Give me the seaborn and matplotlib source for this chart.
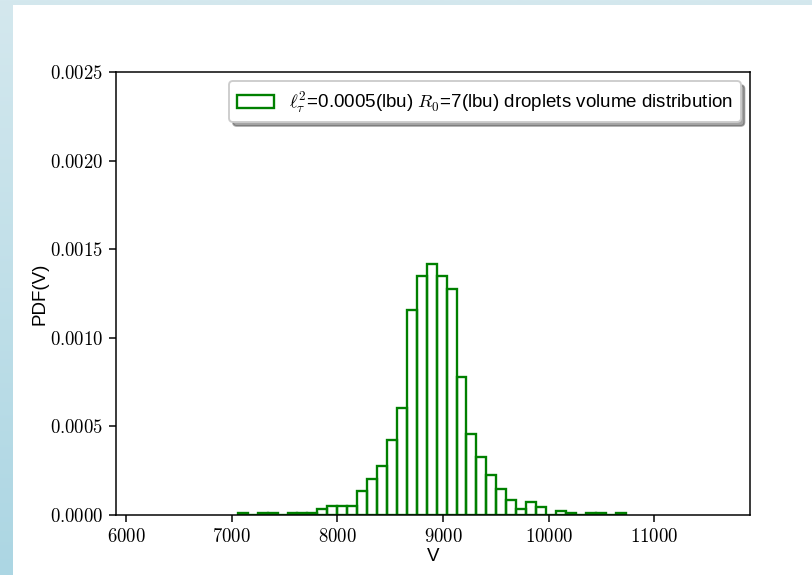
import numpy as np
import seaborn as sns
import matplotlib.pyplot as plt
from matplotlib.patches import Patch, Rectangle
from matplotlib.ticker import FuncFormatter, MultipleLocator

# histogram (bin centres and PDF values)
volume = [7105, 7199, 7293, 7387, 7482, 7576, 7670, 7764, 7858, 7952,
          8046, 8140, 8234, 8328, 8423, 8517, 8611, 8705, 8799, 8893,
          8987, 9081, 9175, 9269, 9364, 9458, 9552, 9646, 9740, 9834,
          9928, 10022, 10116, 10210, 10305, 10399, 10493, 10587, 10681]
pdf = [0.0000106, 0.0, 0.0000106, 0.0000106, 0.0, 0.0000106, 0.0000106, 0.0000106, 0.0000319, 0.0000531,
       0.0000531, 0.0000531, 0.000138, 0.000202, 0.000276, 0.000425, 0.000606, 0.001158, 0.00135, 0.001414,
       0.00135, 0.001275, 0.000776, 0.000457, 0.000329, 0.000223, 0.000149, 0.000085, 0.0000319, 0.0000744,
       0.0000425, 0.0, 0.0000213, 0.0000106, 0.0, 0.0000106, 0.0000106, 0.0, 0.0000106]
n_bins = 39
bin_range = (7058, 10728)

label = r'$\ell_\tau^2$=0.0005(lbu) $R_0$=7(lbu) droplets volume distribution'

plt.rcParams['mathtext.fontset'] = 'cm'
plt.rcParams['font.family'] = ['Liberation Sans', 'DejaVu Sans']

fig = plt.figure(figsize=(812 / 135, 575 / 135), dpi=135)

# light blue page frame behind the figure
bg = fig.add_axes([0, 0, 1, 1], zorder=-5)
grad = np.linspace(0, 1, 256).reshape(-1, 1)
bg.imshow(grad, cmap=sns.blend_palette(['#acd6e3', '#d4e8ee'], as_cmap=True),
          aspect='auto', extent=[0, 1, 0, 1], origin='lower')
bg.add_patch(Rectangle((13 / 812, 0), 1, 1 - 5 / 575, facecolor='white', edgecolor='none'))
bg.set_xlim(0, 1)
bg.set_ylim(0, 1)
bg.axis('off')

ax = fig.add_axes([116 / 812, 1 - 515 / 575, (750 - 116) / 812, (515 - 72) / 575])
sns.histplot(x=volume, weights=pdf, bins=n_bins, binrange=bin_range, stat='count',
             element='bars', fill=False, color='green', linewidth=1.25, ax=ax)

ax.set_xlim(5905, 11906)
ax.set_ylim(0, 0.0025)
ax.xaxis.set_major_locator(MultipleLocator(1000))
ax.yaxis.set_major_locator(MultipleLocator(0.0005))
ax.xaxis.set_major_formatter(FuncFormatter(lambda v, p: r'$%d$' % v))
ax.yaxis.set_major_formatter(FuncFormatter(lambda v, p: r'$%.4f$' % v))
ax.set_xlabel('V', labelpad=1)
ax.set_ylabel('PDF(V)', labelpad=0.5)

handle = Patch(facecolor='none', edgecolor='green', linewidth=1.25, label=label)
ax.legend(handles=[handle], loc='upper right', shadow=True, fancybox=True)

fig.savefig('out.png', dpi=135)
